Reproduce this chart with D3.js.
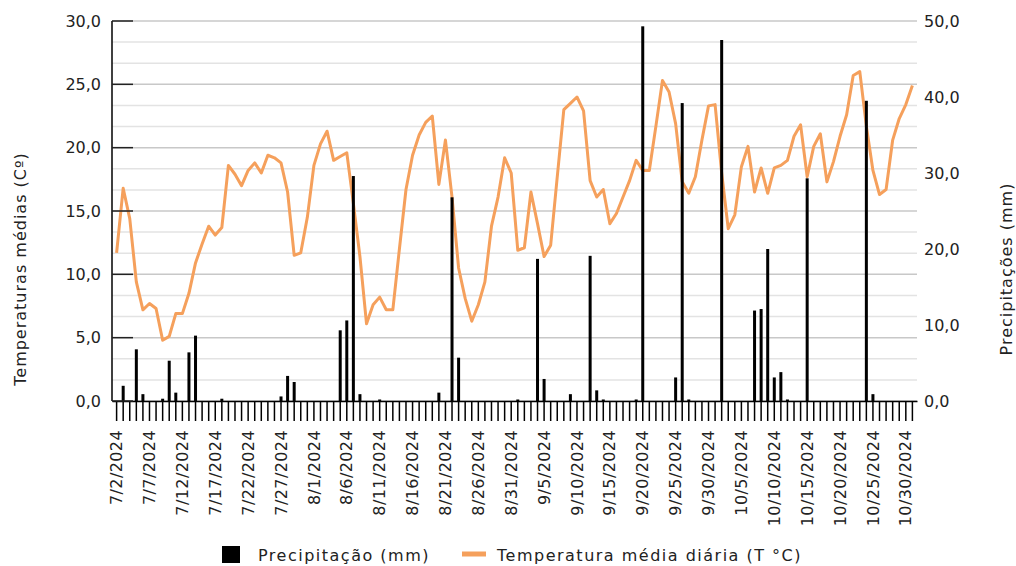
<!DOCTYPE html>
<html>
<head>
<meta charset="utf-8">
<script src="https://cdn.jsdelivr.net/npm/d3@7"></script>
<style>
  body { margin: 0; background: #fff; }
  text { font-family: "DejaVu Sans", sans-serif; fill: #222; }
</style>
</head>
<body>
<div id="chart-area"></div>
<script>
// daily categories: 7/2/2024 .. 10/31/2024
var days = d3.timeDay.range(new Date(2024, 6, 2), new Date(2024, 10, 1));

// mean daily temperature (°C)
var temperature = [
  11.7, 16.8, 14.4, 9.4, 7.2, 7.7, 7.3, 4.8, 5.1, 6.9,
  6.9, 8.5, 10.9, 12.4, 13.8, 13.1, 13.7, 18.6, 17.9, 17.0,
  18.2, 18.8, 18.0, 19.4, 19.2, 18.8, 16.5, 11.5, 11.7, 14.5,
  18.6, 20.3, 21.3, 19.0, 19.3, 19.6, 15.6, 11.4, 6.1, 7.6,
  8.2, 7.2, 7.2, 12.0, 16.7, 19.4, 21.0, 22.0, 22.5, 17.1,
  20.6, 16.1, 10.5, 8.1, 6.3, 7.6, 9.4, 13.8, 16.1, 19.2,
  18.0, 11.9, 12.1, 16.5, 14.0, 11.4, 12.3, 17.7, 23.0, 23.5,
  24.0, 22.9, 17.4, 16.1, 16.7, 14.0, 14.8, 16.1, 17.4, 19.0,
  18.2, 18.2, 21.7, 25.3, 24.4, 21.9, 17.3, 16.4, 17.7, 20.6,
  23.3, 23.4, 18.0, 13.6, 14.7, 18.5, 20.1, 16.5, 18.4, 16.4,
  18.4, 18.6, 19.0, 20.9, 21.8, 17.7, 20.1, 21.1, 17.3, 18.9,
  20.9, 22.6, 25.7, 26.0, 21.7, 18.2, 16.3, 16.7, 20.6, 22.3,
  23.4, 24.9
];

// daily precipitation (mm)
var precipitation = [
  0, 2.0, 0, 6.8, 0.9, 0, 0, 0.3, 5.3, 1.1,
  0, 6.4, 8.6, 0, 0, 0, 0.3, 0, 0, 0,
  0, 0, 0, 0, 0, 0.6, 3.3, 2.5, 0, 0,
  0, 0, 0, 0, 9.3, 10.6, 29.6, 0.9, 0, 0,
  0.2, 0, 0, 0, 0, 0, 0, 0, 0, 1.1,
  0, 26.8, 5.7, 0, 0, 0, 0, 0, 0, 0,
  0, 0.2, 0, 0, 18.7, 2.9, 0, 0, 0, 0.9,
  0, 0, 19.1, 1.4, 0.2, 0, 0, 0, 0, 0.2,
  49.3, 0, 0, 0, 0, 3.1, 39.2, 0.2, 0, 0,
  0, 0, 47.5, 0, 0, 0, 0, 11.9, 12.1, 20.0,
  3.1, 3.8, 0.2, 0, 0, 29.3, 0, 0, 0, 0,
  0, 0, 0, 0, 39.5, 0.9, 0, 0, 0, 0,
  0, 0
];

var tempTicks = [0, 5, 10, 15, 20, 25, 30];
var precTicks = [0, 10, 20, 30, 40, 50];

var plotLeft = 112, plotRight = 917, plotTop = 21, plotBottom = 401;
var lineColor = "#f5a05c";

var svg = d3.select("#chart-area").append("svg")
    .attr("width", 1016)
    .attr("height", 566);

var x = d3.scaleBand()
    .domain(days)
    .range([plotLeft, plotRight])
    .paddingInner(0)
    .paddingOuter(0.2);

var yT = d3.scaleLinear().domain([0, 30]).range([plotBottom, plotTop]);
var yP = d3.scaleLinear().domain([0, 50]).range([plotBottom, plotTop]);

var num = d3.formatLocale({decimal: ",", thousands: ".", grouping: [3], currency: ["", ""]}).format(".1f");
var dateFmt = d3.timeFormat("%-m/%-d/%Y");

function cx(d) { return x(d) + x.bandwidth() / 2; }

// grid: three lines per temperature step
var gridVals = d3.range(0, 19).map(function(k) { return k * 5 / 3; });
svg.append("g").selectAll("line")
    .data(gridVals)
    .enter().append("line")
    .attr("x1", plotLeft)
    .attr("x2", plotRight)
    .attr("y1", function(d) { return yT(d); })
    .attr("y2", function(d) { return yT(d); })
    .attr("stroke", function(d, i) { return i % 3 == 0 ? "#c8c8c8" : "#e3e3e3"; })
    .attr("stroke-width", 1.5);

// temperature line
var line = d3.line()
    .x(function(d, i) { return cx(days[i]); })
    .y(function(d) { return yT(d); });

svg.append("path")
    .datum(temperature)
    .attr("fill", "none")
    .attr("stroke", lineColor)
    .attr("stroke-width", 3)
    .attr("stroke-linejoin", "round")
    .attr("d", line);

// precipitation bars
svg.append("g").selectAll("rect")
    .data(precipitation)
    .enter().append("rect")
    .attr("x", function(d, i) { return cx(days[i]) - 1.5; })
    .attr("width", 3)
    .attr("y", function(d) { return yP(d); })
    .attr("height", function(d) { return plotBottom - yP(d); })
    .attr("fill", "#000");

// x axis
var xAxis = svg.append("g")
    .attr("transform", "translate(0," + plotBottom + ")")
    .call(d3.axisBottom(x).tickSize(20).tickSizeOuter(0).tickFormat(""));
xAxis.select(".domain").attr("stroke", "#000").attr("stroke-width", 1.5);
xAxis.selectAll(".tick line").attr("stroke", "#000").attr("stroke-width", 1.5);

svg.append("g").selectAll("text")
    .data(days.filter(function(d, i) { return i % 5 == 0; }))
    .enter().append("text")
    .attr("transform", function(d) { return "translate(" + cx(d) + ",430) rotate(-90)"; })
    .attr("text-anchor", "end")
    .attr("dy", "0.35em")
    .style("font-size", "16px")
    .style("letter-spacing", "0.4px")
    .text(dateFmt);

// left axis
svg.append("line")
    .attr("x1", plotLeft).attr("x2", plotLeft)
    .attr("y1", plotTop).attr("y2", plotBottom)
    .attr("stroke", "#000").attr("stroke-width", 1.5);

svg.append("g").selectAll("line")
    .data(tempTicks)
    .enter().append("line")
    .attr("x1", plotLeft).attr("x2", plotLeft + 21)
    .attr("y1", function(d) { return yT(d); })
    .attr("y2", function(d) { return yT(d); })
    .attr("stroke", "#222").attr("stroke-width", 1.5);

svg.append("g").selectAll("text")
    .data(tempTicks)
    .enter().append("text")
    .attr("x", 101)
    .attr("y", function(d) { return yT(d); })
    .attr("dy", "0.35em")
    .attr("text-anchor", "end")
    .style("font-size", "16px")
    .text(num);

// right axis labels
svg.append("g").selectAll("text")
    .data(precTicks)
    .enter().append("text")
    .attr("x", 924)
    .attr("y", function(d) { return yP(d); })
    .attr("dy", "0.35em")
    .style("font-size", "16px")
    .text(num);

// axis titles
svg.append("text")
    .attr("transform", "translate(20,269) rotate(-90)")
    .attr("text-anchor", "middle")
    .attr("dy", "0.35em")
    .style("font-size", "16px")
    .style("letter-spacing", "1px")
    .text("Temperaturas médias (Cº)");

svg.append("text")
    .attr("transform", "translate(1006,269) rotate(-90)")
    .attr("text-anchor", "middle")
    .attr("dy", "0.35em")
    .style("font-size", "16px")
    .style("letter-spacing", "1px")
    .text("Precipitações (mm)");

// legend
svg.append("rect")
    .attr("x", 222).attr("y", 546)
    .attr("width", 18).attr("height", 17)
    .attr("fill", "#000");
svg.append("text")
    .attr("x", 258).attr("y", 561)
    .style("font-size", "16px")
    .style("letter-spacing", "1.5px")
    .text("Precipitação (mm)");

svg.append("line")
    .attr("x1", 462).attr("x2", 486)
    .attr("y1", 554).attr("y2", 554)
    .attr("stroke", lineColor).attr("stroke-width", 5);
svg.append("text")
    .attr("x", 497).attr("y", 561)
    .style("font-size", "16px")
    .style("letter-spacing", "1.5px")
    .text("Temperatura média diária (T °C)");
</script>
</body>
</html>
